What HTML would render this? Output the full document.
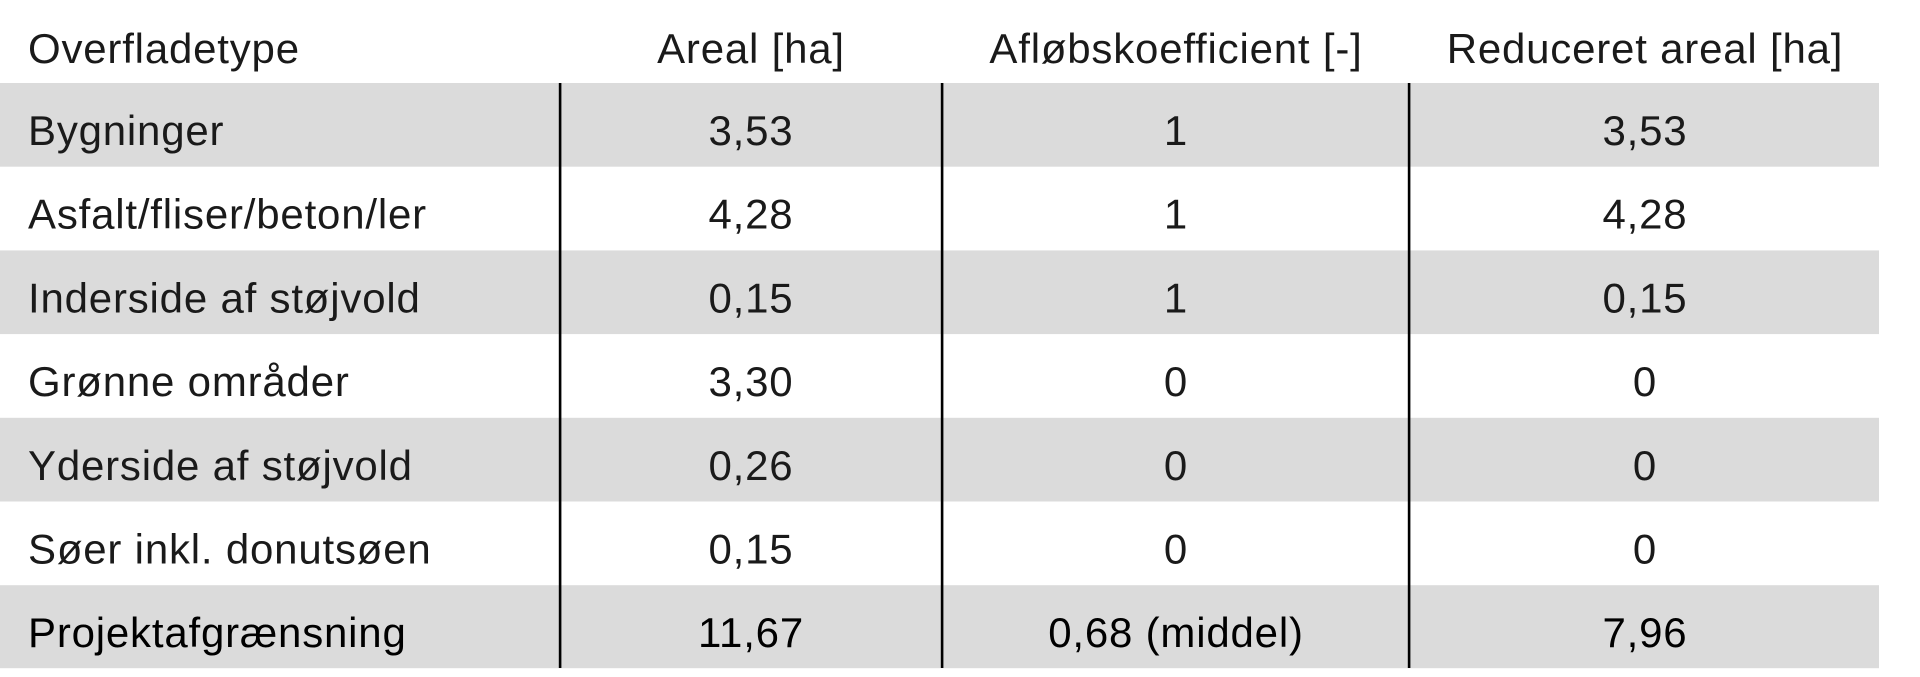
<!DOCTYPE html>
<html>
<head>
<meta charset="utf-8">
<style>
  html, body { margin: 0; padding: 0; background: #ffffff; }
  body { width: 1920px; height: 677px; overflow: hidden; }
  svg { display: block; }
  text { font-family: "Liberation Sans", "DejaVu Sans", sans-serif; font-size: 42px; fill: #1a1a1a; letter-spacing: 0.8px; }
  .c { text-anchor: middle; }
  .b { fill: #000; }
</style>
</head>
<body>
<svg width="1920" height="677" viewBox="0 0 1920 677" xmlns="http://www.w3.org/2000/svg">
  <rect x="0" y="0" width="1920" height="677" fill="#ffffff"/>
  <!-- gray bands -->
  <rect x="0" y="83" width="1879" height="83.7" fill="#dbdbdb"/>
  <rect x="0" y="250.4" width="1879" height="83.7" fill="#dbdbdb"/>
  <rect x="0" y="417.8" width="1879" height="83.7" fill="#dbdbdb"/>
  <rect x="0" y="585.2" width="1879" height="83" fill="#dbdbdb"/>
  <!-- vertical lines -->
  <rect x="558.8" y="83" width="2.6" height="585" fill="#000"/>
  <rect x="940.8" y="83" width="2.6" height="585" fill="#000"/>
  <rect x="1407.8" y="83" width="2.6" height="585" fill="#000"/>

  <!-- header -->
  <text x="28" y="63">Overfladetype</text>
  <text class="c" x="751" y="63">Areal [ha]</text>
  <text class="c" x="1176" y="63">Afløbskoefficient [-]</text>
  <text class="c" x="1645" y="63">Reduceret areal [ha]</text>

  <!-- row 1 -->
  <text x="28" y="145">Bygninger</text>
  <text class="c" x="751" y="145">3,53</text>
  <text class="c" x="1176" y="145">1</text>
  <text class="c" x="1645" y="145">3,53</text>

  <!-- row 2 -->
  <text x="28" y="228.7">Asfalt/fliser/beton/ler</text>
  <text class="c" x="751" y="228.7">4,28</text>
  <text class="c" x="1176" y="228.7">1</text>
  <text class="c" x="1645" y="228.7">4,28</text>

  <!-- row 3 -->
  <text x="28" y="312.4">Inderside af støjvold</text>
  <text class="c" x="751" y="312.4">0,15</text>
  <text class="c" x="1176" y="312.4">1</text>
  <text class="c" x="1645" y="312.4">0,15</text>

  <!-- row 4 -->
  <text x="28" y="396.1">Grønne områder</text>
  <text class="c" x="751" y="396.1">3,30</text>
  <text class="c" x="1176" y="396.1">0</text>
  <text class="c" x="1645" y="396.1">0</text>

  <!-- row 5 -->
  <text x="28" y="479.8">Yderside af støjvold</text>
  <text class="c" x="751" y="479.8">0,26</text>
  <text class="c" x="1176" y="479.8">0</text>
  <text class="c" x="1645" y="479.8">0</text>

  <!-- row 6 -->
  <text x="28" y="563.5">Søer inkl. donutsøen</text>
  <text class="c" x="751" y="563.5">0,15</text>
  <text class="c" x="1176" y="563.5">0</text>
  <text class="c" x="1645" y="563.5">0</text>

  <!-- row 7 -->
  <text class="b" x="28" y="647.2">Projektafgrænsning</text>
  <text class="c b" x="751" y="647.2">11,67</text>
  <text class="c b" x="1176" y="647.2">0,68 (middel)</text>
  <text class="c b" x="1645" y="647.2">7,96</text>
</svg>
</body>
</html>
